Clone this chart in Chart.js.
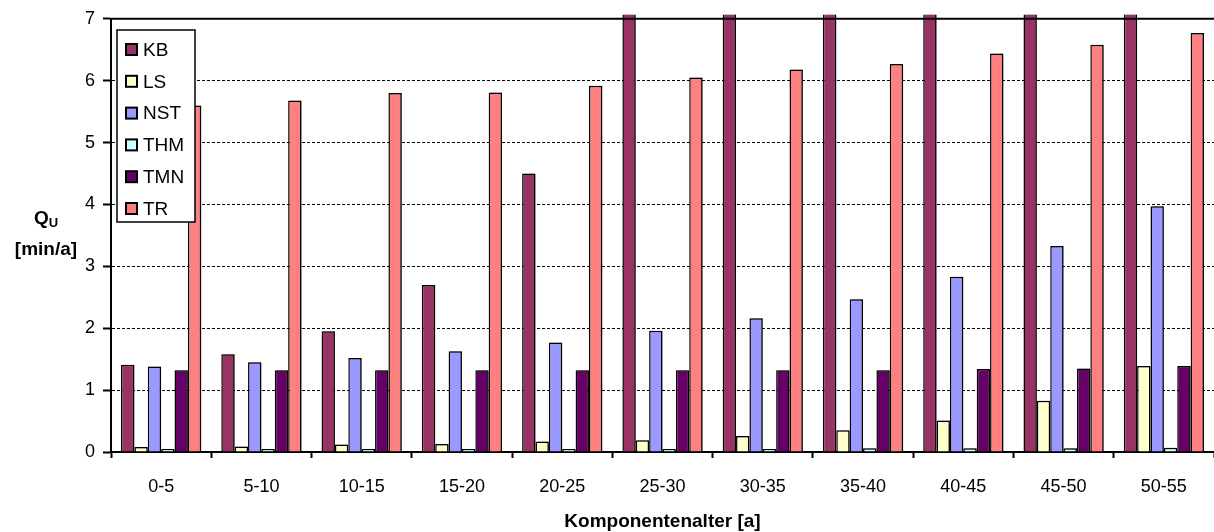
<!DOCTYPE html>
<html>
<head>
<meta charset="utf-8">
<script src="https://cdn.jsdelivr.net/npm/chart.js@4"></script>
<style>
    html, body { margin: 0; padding: 0; background: #fff; }
    canvas { display: block; }
</style>
</head>
<body>
<canvas id="qChart" width="1214" height="532"></canvas>
<script>
// categories
const ageClasses = ['0-5', '5-10', '10-15', '15-20', '20-25', '25-30', '30-35', '35-40', '40-45', '45-50', '50-55'];
// series (KB runs off the top of the axis from 25-30 on)
const seriesNames = ['KB', 'LS', 'NST', 'THM', 'TMN', 'TR'];
const kbValues  = [1.41, 1.58, 1.95, 2.70, 4.50, 7.9, 9.3, 11.0, 13.0, 15.3, 18.0];
const lsValues  = [0.08, 0.09, 0.12, 0.13, 0.17, 0.19, 0.26, 0.35, 0.51, 0.83, 1.39];
const nstValues = [1.38, 1.45, 1.52, 1.63, 1.77, 1.96, 2.16, 2.47, 2.83, 3.33, 3.97];
const thmValues = [0.05, 0.05, 0.05, 0.05, 0.05, 0.05, 0.05, 0.06, 0.06, 0.06, 0.07];
const tmnValues = [1.32, 1.32, 1.32, 1.32, 1.32, 1.32, 1.32, 1.32, 1.34, 1.35, 1.39];
const trValues  = [5.60, 5.68, 5.80, 5.81, 5.92, 6.05, 6.18, 6.27, 6.44, 6.58, 6.77];
const yTickValues = [0, 1, 2, 3, 4, 5, 6, 7];

const colors = ['#993366', '#FFFFCC', '#9999FF', '#CCFFFF', '#660066', '#FF8080'];
const allValues = [kbValues, lsValues, nstValues, thmValues, tmnValues, trValues];
const FONT = '"Liberation Sans", Arial, sans-serif';

const datasets = seriesNames.map((name, i) => ({
    label: name,
    data: allValues[i],
    backgroundColor: colors[i],
    borderColor: '#000',
    borderWidth: 1.5,
    borderSkipped: 'bottom',
    categoryPercentage: 0.8,
    barPercentage: 1.0,
    clip: { left: 0, top: 4, right: 0, bottom: 0 }
}));

// grey drop shadow on the bars, like the old office chart
const barShadow = {
    id: 'barShadow',
    beforeDatasetsDraw(chart) {
        const ctx = chart.ctx;
        ctx.save();
        ctx.shadowColor = 'rgba(0,0,0,0.4)';
        ctx.shadowOffsetX = 2;
        ctx.shadowOffsetY = 0;
        ctx.shadowBlur = 0;
    },
    afterDatasetsDraw(chart) {
        chart.ctx.restore();
    }
};

// top frame line, axis titles and the boxed legend
const decorations = {
    id: 'decorations',
    afterDraw(chart) {
        const ctx = chart.ctx;
        const area = chart.chartArea;
        ctx.save();

        ctx.strokeStyle = '#000';
        ctx.lineWidth = 2;
        ctx.beginPath();
        ctx.moveTo(area.left, area.top);
        ctx.lineTo(area.right, area.top);
        ctx.stroke();

        // y title: Q with subscript U, then [min/a]
        ctx.fillStyle = '#000';
        ctx.textBaseline = 'alphabetic';
        ctx.font = 'bold 19px ' + FONT;
        const qW = ctx.measureText('Q').width;
        ctx.font = 'bold 13px ' + FONT;
        const uW = ctx.measureText('U').width;
        let x = 46 - (qW + uW) / 2;
        ctx.font = 'bold 19px ' + FONT;
        ctx.textAlign = 'left';
        ctx.fillText('Q', x, 224);
        ctx.font = 'bold 13px ' + FONT;
        ctx.fillText('U', x + qW, 227);
        ctx.font = 'bold 19px ' + FONT;
        ctx.textAlign = 'center';
        ctx.fillText('[min/a]', 46, 255);

        // x title
        ctx.font = 'bold 19px ' + FONT;
        ctx.fillText('Komponentenalter [a]', (area.left + area.right) / 2, 527);

        // legend box
        const lx = 117, ly = 30, lw = 78, lh = 192;
        ctx.fillStyle = '#fff';
        ctx.fillRect(lx, ly, lw, lh);
        ctx.lineWidth = 1.5;
        ctx.strokeStyle = '#000';
        ctx.strokeRect(lx, ly, lw, lh);
        ctx.font = '19px ' + FONT;
        ctx.textAlign = 'left';
        ctx.textBaseline = 'middle';
        seriesNames.forEach((name, i) => {
            const cy = 49.5 + i * 31.8;
            ctx.fillStyle = colors[i];
            ctx.fillRect(126, cy - 5.5, 11, 11);
            ctx.lineWidth = 2;
            ctx.strokeRect(126, cy - 5.5, 11, 11);
            ctx.fillStyle = '#000';
            ctx.fillText(name, 143, cy + 1);
        });
        ctx.restore();
    }
};

new Chart(document.getElementById('qChart'), {
    type: 'bar',
    data: { labels: ageClasses, datasets: datasets },
    plugins: [barShadow, decorations],
    options: {
        responsive: false,
        animation: false,
        layout: { padding: { top: 18, right: 0, left: 0, bottom: 0 } },
        plugins: {
            legend: { display: false },
            tooltip: { enabled: false }
        },
        scales: {
            x: {
                grid: {
                    display: true,
                    offset: true,
                    drawOnChartArea: false,
                    tickLength: 6,
                    tickColor: '#000',
                    tickWidth: 2
                },
                border: { display: true, color: '#000', width: 2 },
                ticks: {
                    color: '#000',
                    font: { family: FONT, size: 18 },
                    padding: 18,
                    maxRotation: 0,
                    autoSkip: false
                },
                afterFit(scale) { scale.height = 80; }
            },
            y: {
                min: 0,
                max: 7,
                afterBuildTicks(scale) {
                    scale.ticks = yTickValues.map(v => ({ value: v }));
                },
                grid: {
                    color: '#000',
                    lineWidth: 1,
                    tickLength: 8,
                    tickColor: '#000',
                    tickWidth: 2
                },
                border: { display: true, color: '#000', width: 2, dash: [3, 2] },
                ticks: {
                    color: '#000',
                    font: { family: FONT, size: 18 },
                    padding: 8
                },
                afterFit(scale) { scale.width = 111; }
            }
        }
    }
});
</script>
</body>
</html>
